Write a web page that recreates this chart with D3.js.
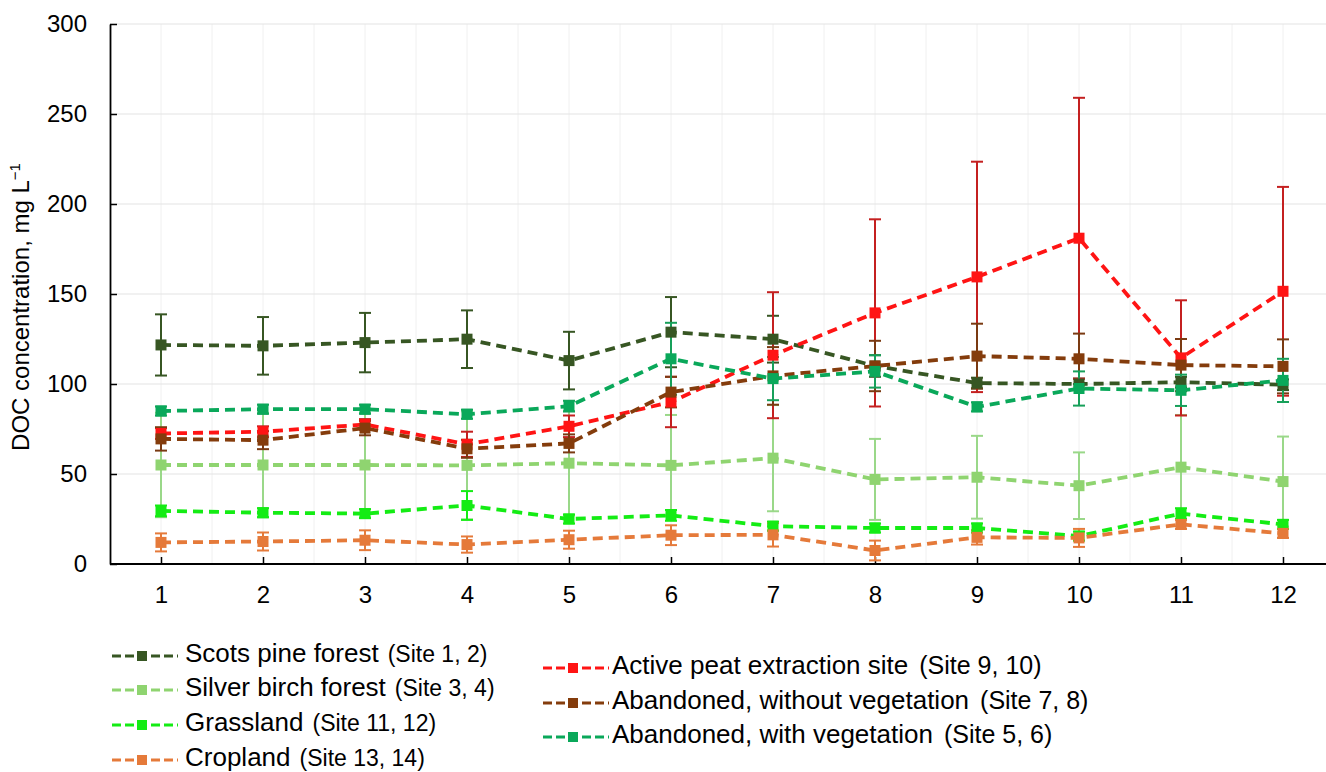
<!DOCTYPE html>
<html>
<head>
<meta charset="utf-8">
<script src="https://cdn.jsdelivr.net/npm/d3@7/dist/d3.min.js"></script>
<style>
  html, body { margin: 0; padding: 0; background: #fff; }
  svg { display: block; font-family: "Liberation Sans", Arial, sans-serif; }
</style>
</head>
<body>
<svg id="chart" width="1326" height="772"></svg>
<script>
// ---- data ----
const months = [1, 2, 3, 4, 5, 6, 7, 8, 9, 10, 11, 12];
const yTicks = [0, 50, 100, 150, 200, 250, 300];

const scotsPine      = [121.7, 121.2, 123.0, 124.9, 113.0, 128.8, 124.9, 110.0, 100.5, 100.0, 101.0, 99.6];
const scotsPineErr   = [17, 16, 16.5, 16, 16, 19.5, 13, 6, 3, 3, 3, 3];
const silverBirch    = [55.0, 55.0, 55.0, 54.8, 56.0, 54.8, 58.8, 47.0, 48.2, 43.5, 53.8, 45.8];
const silverBirchErr = [29, 29, 29, 30, 29, 28, 29.5, 22.5, 23, 18.5, 29, 25];
const grassland      = [29.5, 28.5, 28.0, 32.5, 25.0, 27.0, 21.0, 20.0, 20.0, 15.5, 28.0, 22.0];
const grasslandErr   = [3, 2.5, 2.5, 8, 2.5, 3, 2.5, 2.5, 2.5, 2.5, 3, 2.5];
const cropland       = [12.0, 12.5, 13.2, 10.8, 13.5, 16.0, 16.2, 7.5, 14.8, 14.5, 22.0, 17.0];
const croplandErr    = [5, 5, 5.5, 4.5, 5, 5.5, 6.5, 5.5, 4, 5, 2.5, 2.5];
const activePeat     = [72.5, 73.5, 77.5, 66.5, 76.5, 90.0, 116.0, 139.5, 159.5, 181.0, 114.5, 151.5];
const activePeatErr  = [3, 3, 3, 7, 6, 14, 35, 52, 64, 78, 32, 58];
const abandonedNoVeg    = [69.5, 68.8, 75.5, 64.0, 67.0, 95.5, 104.5, 110.0, 115.5, 114.0, 110.5, 109.8];
const abandonedNoVegErr = [6.5, 5, 4, 5, 5, 8.5, 16, 14, 18, 14, 14.5, 15];
const abandonedVeg      = [85.0, 86.0, 86.0, 83.2, 87.7, 114.0, 103.0, 107.0, 87.3, 97.5, 96.5, 102.0];
const abandonedVegErr   = [2.5, 2.5, 2.5, 2.5, 3, 20, 12, 9, 2.5, 9.5, 8.7, 12];

const seriesNames = [
  ["Scots pine forest", "(Site 1, 2)"],
  ["Silver birch forest", "(Site 3, 4)"],
  ["Grassland", "(Site 11, 12)"],
  ["Cropland", "(Site 13, 14)"],
  ["Active peat extraction site", "(Site 9, 10)"],
  ["Abandoned, without vegetation", "(Site 7, 8)"],
  ["Abandoned, with vegetation", "(Site 5, 6)"]
];
const seriesValues = [scotsPine, silverBirch, grassland, cropland, activePeat, abandonedNoVeg, abandonedVeg];
const seriesErrors = [scotsPineErr, silverBirchErr, grasslandErr, croplandErr, activePeatErr, abandonedNoVegErr, abandonedVegErr];
const seriesColors = ["#375623", "#8fd470", "#14ec14", "#e57a3a", "#ff1414", "#843c0c", "#0aa85a"];
const errorColors  = ["#375623", "#9ad889", "#14ec14", "#e57a3a", "#c42020", "#7a3a12", "#17a05a"];

// ---- layout ----
const svg = d3.select("#chart");
const W = 1326, H = 772;
const x = d3.scaleLinear().domain([0.5, 12.5]).range([110, 1334]);
const y = d3.scaleLinear().domain([0, 300]).range([564, 24]);

// grid
const grid = svg.append("g");
const vGrid = d3.range(1, 12.51, 0.5);
grid.selectAll("line.v").data(vGrid).join("line")
  .attr("x1", d => x(d)).attr("x2", d => x(d))
  .attr("y1", y(300)).attr("y2", y(0))
  .attr("stroke", "#f0f0f0").attr("stroke-width", 1);
grid.selectAll("line.h").data(yTicks.filter(d => d > 0)).join("line")
  .attr("x1", x(0.5)).attr("x2", W)
  .attr("y1", d => y(d)).attr("y2", d => y(d))
  .attr("stroke", "#e4e4e4").attr("stroke-width", 1.2);

// axes
const yAxis = svg.append("g").attr("transform", `translate(${x(0.5)},0)`)
  .call(d3.axisLeft(y).tickValues(yTicks).tickSize(-7).tickPadding(23).tickSizeOuter(0));
const xAxis = svg.append("g").attr("transform", `translate(0,${y(0)})`)
  .call(d3.axisBottom(x).tickValues(months).tickSize(-7).tickPadding(22).tickSizeOuter(0).tickFormat(d3.format("d")));
[yAxis, xAxis].forEach(a => {
  a.select(".domain").attr("stroke", "#000").attr("stroke-width", 1.8);
  a.selectAll(".tick line").attr("stroke", "#000").attr("stroke-width", 1.5);
  a.selectAll(".tick text").attr("fill", "#000").style("font-size", "24px")
    .style("font-family", "'Liberation Sans', Arial, sans-serif");
});
xAxis.select(".domain").attr("d", `M${x(0.5)},0H${W}`);

// y axis title
const yt = svg.append("text")
  .attr("transform", `translate(29,307) rotate(-90)`)
  .attr("text-anchor", "middle")
  .style("font-size", "24px").attr("fill", "#000");
yt.append("tspan").text("DOC concentration, mg L");
yt.append("tspan").attr("dy", "-9").style("font-size", "15px").text("\u22121");

// error bars (behind)
const errG = svg.append("g");
seriesValues.forEach((vals, si) => {
  const errs = seriesErrors[si];
  const g = errG.append("g").attr("stroke", errorColors[si]).attr("stroke-width", 2);
  vals.forEach((v, i) => {
    const cx = x(months[i]);
    const lo = y(Math.max(0, v - errs[i])), hi = y(v + errs[i]);
    g.append("line").attr("x1", cx).attr("x2", cx).attr("y1", lo).attr("y2", hi);
    g.append("line").attr("x1", cx - 6).attr("x2", cx + 6).attr("y1", lo).attr("y2", lo);
    g.append("line").attr("x1", cx - 6).attr("x2", cx + 6).attr("y1", hi).attr("y2", hi);
  });
});

// lines + markers
const line = d3.line().x((d, i) => x(months[i])).y(d => y(d));
const ms = 11;
seriesValues.forEach((vals, si) => {
  svg.append("path").datum(vals)
    .attr("d", line)
    .attr("fill", "none")
    .attr("stroke", seriesColors[si])
    .attr("stroke-width", 3.8)
    .attr("stroke-dasharray", "10,6");
  svg.append("g").selectAll("rect").data(vals).join("rect")
    .attr("x", (d, i) => x(months[i]) - ms / 2)
    .attr("y", d => y(d) - ms / 2)
    .attr("width", ms).attr("height", ms)
    .attr("fill", seriesColors[si]);
});

// legend
const legendPos = [
  [112, 656], [112, 690], [112, 725], [112, 760],
  [543, 668], [543, 703], [543, 737]
];
const siteSize = [23, 23, 23, 23, 25, 25, 25];
const siteGap  = [9, 9, 9, 9, 11, 11, 11];
seriesNames.forEach((nm, si) => {
  const [lx, ly] = legendPos[si];
  const g = svg.append("g").attr("transform", `translate(${lx},${ly})`);
  g.append("line").attr("x1", 0).attr("x2", 66).attr("y1", 0).attr("y2", 0)
    .attr("stroke", seriesColors[si]).attr("stroke-width", 3.2)
    .attr("stroke-dasharray", "9,4");
  g.append("rect").attr("x", 30 - 5).attr("y", -5).attr("width", 10).attr("height", 10)
    .attr("fill", seriesColors[si]);
  const tx = si < 4 ? 73 : 69;
  const t = g.append("text").attr("x", tx).attr("y", 0).attr("dy", "0.35em")
    .attr("fill", "#000");
  t.append("tspan").style("font-size", "26px").text(nm[0]);
  t.append("tspan").attr("dx", siteGap[si]).style("font-size", siteSize[si] + "px").text(nm[1]);
});
</script>
</body>
</html>
